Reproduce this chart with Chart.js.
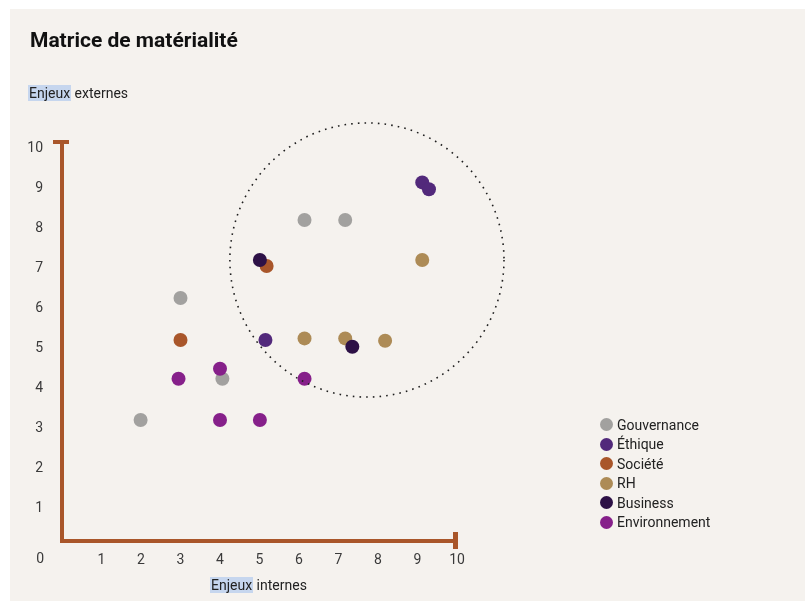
<!DOCTYPE html>
<html lang="fr">
<head>
<meta charset="utf-8">
<title>Matrice de matérialité</title>
<script src="https://cdn.jsdelivr.net/npm/chart.js@4.4.1/dist/chart.umd.min.js"></script>
<style>
    html, body { margin: 0; padding: 0; background: #fff; }
    body { width: 807px; height: 601px; position: relative; overflow: hidden; font-family: Roboto, "Noto Sans", sans-serif; }
    #panel { position: absolute; left: 10px; top: 9px; width: 795px; height: 600px; background: #f5f2ee; }
    #chart { position: absolute; left: 0; top: 0; }
    .title { position: absolute; left: 30px; top: 30px; font-size: 21px; line-height: 21px; font-weight: 700; color: #111; }
    .axis-label { position: absolute; font-size: 14px; line-height: 23px; color: #222; white-space: nowrap; }
    .axis-label .hl { background: #c6d6ee; padding: 0 1px; }
    #legend { position: absolute; left: 600px; top: 415px; font-size: 14px; color: #222; }
    #legend .item { display: flex; align-items: center; height: 19.5px; }
    #legend .dot { width: 13px; height: 13px; border-radius: 50%; margin-right: 4px; }
</style>
</head>
<body>
<div id="panel"></div>
<canvas id="chart" width="807" height="601"></canvas>
<div class="title">Matrice de matérialité</div>
<div class="axis-label" style="left:28px; top:82px;"><span class="hl">Enjeux</span> externes</div>
<div class="axis-label" style="left:210px; top:574px;"><span class="hl">Enjeux</span> internes</div>
<div id="legend"></div>
<script>
// categories
const seriesNames = ['Gouvernance', 'Éthique', 'Société', 'RH', 'Business', 'Environnement'];
const seriesColors = ['#a2a19f', '#52297b', '#a9562a', '#ad8b56', '#2d1146', '#86208a'];

// values (x = enjeux internes, y = enjeux externes)
const gouvernanceX = [1.99, 3.0, 4.06, 6.14, 7.17];
const gouvernanceY = [3.0, 6.05, 4.03, 8.0, 8.0];
const ethiqueX = [9.12, 9.29, 5.15];
const ethiqueY = [8.94, 8.77, 5.0];
const societeX = [3.0, 5.18];
const societeY = [5.0, 6.85];
const rhX = [9.12, 6.14, 7.17, 8.18];
const rhY = [7.0, 5.04, 5.04, 4.98];
const businessX = [5.01, 7.35];
const businessY = [7.0, 4.83];
const environnementX = [2.95, 4.0, 4.0, 5.01, 6.14];
const environnementY = [4.03, 4.28, 3.0, 3.0, 4.03];

// tick labels
const tickValues = [1, 2, 3, 4, 5, 6, 7, 8, 9, 10];

// zone cercle pointillé
const circleCenterX = 7.72;
const circleCenterY = 7.0;
const circleRadiusX = 3.47;

const allX = [gouvernanceX, ethiqueX, societeX, rhX, businessX, environnementX];
const allY = [gouvernanceY, ethiqueY, societeY, rhY, businessY, environnementY];

const axisColor = '#a9562a';
const tickColor = '#3a3a3a';

const datasets = seriesNames.map((name, i) => ({
    label: name,
    data: allX[i].map((x, j) => ({ x: x, y: allY[i][j] })),
    backgroundColor: seriesColors[i],
    borderWidth: 0,
    pointRadius: 7,
    pointHoverRadius: 7,
    order: seriesNames.length - i
}));

// axes en L avec embouts + cercle pointillé + label 0
const decorPlugin = {
    id: 'decor',
    beforeDatasetsDraw(chart) {
        const ctx = chart.ctx;
        const xs = chart.scales.x, ys = chart.scales.y;
        const x0 = xs.getPixelForValue(0), x10 = xs.getPixelForValue(10);
        const y0 = ys.getPixelForValue(0), y10 = ys.getPixelForValue(10);
        ctx.save();
        ctx.strokeStyle = axisColor;
        ctx.fillStyle = axisColor;
        ctx.lineWidth = 4;
        ctx.beginPath();
        ctx.moveTo(x0, y10 + 2);
        ctx.lineTo(x0, y0 + 1);
        ctx.lineTo(x10, y0 + 1);
        ctx.stroke();
        ctx.fillRect(x0 - 9, y10, 16, 4);
        ctx.fillRect(x10 - 4, y0 - 8, 5, 17);
        ctx.fillStyle = tickColor;
        ctx.font = '14px Roboto';
        ctx.textAlign = 'right';
        ctx.textBaseline = 'middle';
        ctx.fillText('0', x0 - 18, y0 + 19);
        ctx.restore();
    },
    afterDatasetsDraw(chart) {
        const ctx = chart.ctx;
        const xs = chart.scales.x, ys = chart.scales.y;
        const cx = xs.getPixelForValue(circleCenterX);
        const cy = ys.getPixelForValue(circleCenterY);
        const r = xs.getPixelForValue(circleCenterX + circleRadiusX) - cx;
        ctx.save();
        ctx.strokeStyle = '#1e1e1e';
        ctx.lineWidth = 1.6;
        ctx.setLineDash([1.6, 5.1]);
        ctx.beginPath();
        ctx.arc(cx, cy, r, 0, Math.PI * 2);
        ctx.stroke();
        ctx.restore();
    }
};

Chart.defaults.font.family = 'Roboto';

const chart = new Chart(document.getElementById('chart'), {
    type: 'scatter',
    data: { datasets: datasets },
    options: {
        responsive: false,
        animation: false,
        layout: { padding: { left: 22, top: 140, right: 350, bottom: 31 } },
        plugins: {
            legend: { display: false },
            tooltip: { enabled: false }
        },
        elements: { point: { hitRadius: 0 } },
        scales: {
            x: {
                type: 'linear',
                min: 0,
                max: 10,
                afterFit: s => { s.height = 30; },
                afterBuildTicks: s => { s.ticks = tickValues.map(v => ({ value: v })); },
                grid: { display: false, drawTicks: false },
                border: { display: false },
                ticks: { padding: 12, color: tickColor, font: { size: 14 } }
            },
            y: {
                type: 'linear',
                min: 0,
                max: 10,
                afterFit: s => { s.width = 40; },
                afterBuildTicks: s => { s.ticks = tickValues.map(v => ({ value: v })); },
                grid: { display: false, drawTicks: false },
                border: { display: false },
                ticks: { padding: 19, labelOffset: 8, color: tickColor, font: { size: 14 } }
            }
        }
    },
    plugins: [decorPlugin]
});

// légende HTML générée depuis les datasets
const legendEl = document.getElementById('legend');
chart.data.datasets.forEach(ds => {
    const item = document.createElement('div');
    item.className = 'item';
    item.innerHTML = `<span class="dot" style="background:${ds.backgroundColor}"></span><span>${ds.label}</span>`;
    legendEl.appendChild(item);
});
</script>
</body>
</html>
